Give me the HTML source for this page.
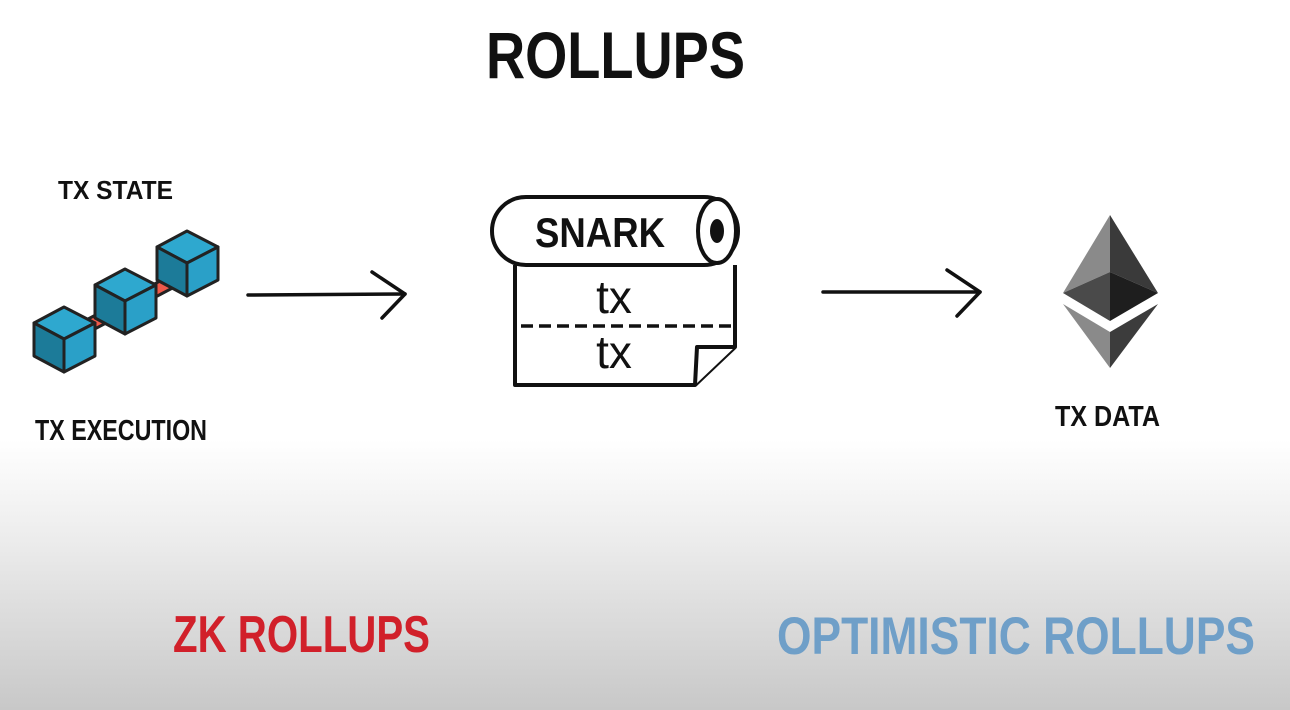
<!DOCTYPE html>
<html><head><style>
html,body{margin:0;padding:0;width:1290px;height:710px;overflow:hidden}
body{background:linear-gradient(to bottom,#fff 0,#fff 440px,#ececec 540px,#c8c8c8 710px)}
svg{position:absolute;left:0;top:0}
text{font-family:"Liberation Sans Narrow","Liberation Sans",sans-serif;font-weight:bold}
</style></head><body>
<svg width="1290" height="710" viewBox="0 0 1290 710">
<text x="486" y="78" font-size="66" textLength="259" lengthAdjust="spacingAndGlyphs" fill="#111">ROLLUPS</text>
<text x="58" y="199" font-size="26" textLength="115" lengthAdjust="spacingAndGlyphs" fill="#111">TX STATE</text>
<text x="35" y="440" font-size="29" textLength="172" lengthAdjust="spacingAndGlyphs" fill="#111">TX EXECUTION</text>
<text x="1055" y="426" font-size="29" textLength="105" lengthAdjust="spacingAndGlyphs" fill="#111">TX DATA</text>
<text x="173" y="652" font-size="52" textLength="257" lengthAdjust="spacingAndGlyphs" fill="#d1202a">ZK ROLLUPS</text>
<text x="777" y="654" font-size="53" textLength="478" lengthAdjust="spacingAndGlyphs" fill="#6f9fc8">OPTIMISTIC ROLLUPS</text>

<!-- chain -->
<g stroke="#222" stroke-width="3" stroke-linejoin="round">
<line x1="80" y1="330" x2="190" y2="272" stroke="#222" stroke-width="15" stroke-linecap="round"/>
<line x1="80" y1="330" x2="190" y2="272" stroke="#f05a4a" stroke-width="9" stroke-linecap="round"/>
<g>
<polygon points="34,323 64,307 95,323 64,339" fill="#2ea8cf"/>
<polygon points="34,323 64,339 64,372 34,356" fill="#1c7b99"/>
<polygon points="64,339 95,323 95,356 64,372" fill="#2aa0c8"/>
</g>
<g transform="translate(61,-38)">
<polygon points="34,323 64,307 95,323 64,339" fill="#2ea8cf"/>
<polygon points="34,323 64,339 64,372 34,356" fill="#1c7b99"/>
<polygon points="64,339 95,323 95,356 64,372" fill="#2aa0c8"/>
</g>
<g transform="translate(123,-76)">
<polygon points="34,323 64,307 95,323 64,339" fill="#2ea8cf"/>
<polygon points="34,323 64,339 64,372 34,356" fill="#1c7b99"/>
<polygon points="64,339 95,323 95,356 64,372" fill="#2aa0c8"/>
</g>
</g>

<!-- arrows -->
<g stroke="#111" stroke-width="3.5" fill="none" stroke-linecap="round" stroke-linejoin="round">
<path d="M248,295 L405,294"/><path d="M372,272 L405,294 L382,318"/>
<path d="M823,292 L980,292"/><path d="M947,270 L980,292 L957,316"/>
</g>

<!-- scroll -->
<g stroke="#111" stroke-width="4" fill="#fff" stroke-linejoin="round">
<path d="M515,265 L515,385 L695,385 L735,347 L735,265"/>
<path d="M695,385 L697,347 L735,347" />
<rect x="492" y="197" width="246" height="68" rx="34"/>
<ellipse cx="717" cy="231" rx="19" ry="32"/>
</g>
<ellipse cx="717" cy="231" rx="7" ry="12" fill="#111"/>
<text x="535" y="247" font-size="42" textLength="130" lengthAdjust="spacingAndGlyphs" fill="#111">SNARK</text>
<line x1="521" y1="326" x2="732" y2="326" stroke="#111" stroke-width="3.5" stroke-dasharray="12,6"/>
<text x="614" y="313" font-size="46" style="font-weight:normal;font-family:'Liberation Sans',sans-serif" text-anchor="middle" fill="#111">tx</text>
<text x="614" y="368" font-size="46" style="font-weight:normal;font-family:'Liberation Sans',sans-serif" text-anchor="middle" fill="#111">tx</text>

<!-- ethereum -->
<polygon points="1110,215 1063,293 1110,272" fill="#8a8a8a"/>
<polygon points="1110,215 1158,293 1110,272" fill="#3a3a3a"/>
<polygon points="1063,293 1110,272 1110,321" fill="#4a4a4a"/>
<polygon points="1158,293 1110,272 1110,321" fill="#1e1e1e"/>
<polygon points="1063,304 1110,332 1110,368" fill="#8a8a8a"/>
<polygon points="1158,304 1110,332 1110,368" fill="#3c3c3c"/>
</svg>
</body></html>
